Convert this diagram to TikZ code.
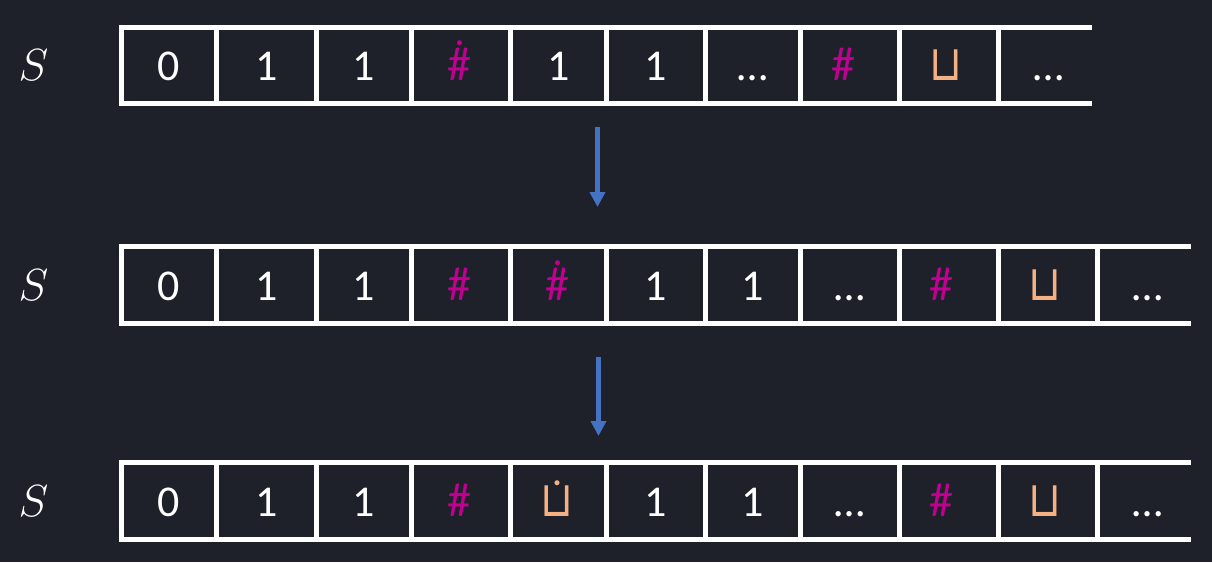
\RequirePackage{fix-cm}
\documentclass[tikz,border=0pt]{standalone}
\usepackage{amsmath}
\usepackage{fontspec}
\newfontfamily\calib{Carlito}
\newfontfamily\djv{DejaVu Sans}
\usetikzlibrary{arrows.meta}
\definecolor{bg}{RGB}{30,33,41}
\definecolor{hashc}{RGB}{192,0,144}
\definecolor{blankc}{RGB}{244,177,131}
\definecolor{arrc}{RGB}{68,114,196}
% a symbol with a dot above it (the head position)
\newcommand\withdot[2]{\setbox0\hbox{#1}\rlap{\hbox to\wd0{\hss\raisebox{#2}{\fontsize{13}{13}\selectfont$\bullet$}\hss}}\box0}
\newcommand\hashsym{{\fontsize{48}{50}\selectfont\#}}
\newcommand\blanksym{\scalebox{0.98}[1.14]{\djv\fontsize{43}{46}\selectfont ⊔}}
\begin{document}
\begin{tikzpicture}[x=1pt,y=-1pt,
  tapeline/.style={draw=white,line width=5pt},
  sym/.style={anchor=base,inner sep=0pt,text=white,font=\calib\fontsize{44}{50}\selectfont},
  hsym/.style={sym,text=hashc},
  bsym/.style={sym,text=blankc},
  lbl/.style={anchor=base,inner sep=0pt,text=white,font=\fontsize{45}{50}\selectfont},
  flow/.style={draw=arrc,line width=5pt,-{Triangle[width=15pt,length=15pt]}}]
\fill[bg] (0,0) rectangle (1212,562);
\useasboundingbox (0,0) rectangle (1212,562);
% ---- row 1 ----
\draw[tapeline] (119,27.5) -- (1092,27.5);
\draw[tapeline] (119,103) -- (1092,103);
\foreach \x in {121.5,216.5,316,411.5,510.5,606.5,705,800.5,899,998.5}
  \draw[tapeline] (\x,27.5) -- (\x,103);
% ---- row 2 ----
\draw[tapeline] (119,246.5) -- (1191,246.5);
\draw[tapeline] (119,323.2) -- (1191,323.2);
\foreach \x in {121.5,216.5,316,411.5,510.5,606.5,705,800.5,899,998.5,1097.5}
  \draw[tapeline] (\x,246.5) -- (\x,323.2);
% ---- row 3 ----
\draw[tapeline] (119,462.5) -- (1191,462.5);
\draw[tapeline] (119,539.5) -- (1191,539.5);
\foreach \x in {121.5,216.5,316,411.5,510.5,606.5,705,800.5,899,998.5,1097.5}
  \draw[tapeline] (\x,462.5) -- (\x,539.5);
% ---- labels ----
\node[lbl] (s1) at (33.5,80.5) {$S$};
\node[lbl] (s2) at (33.5,300.5) {$S$};
\node[lbl] (s3) at (33.5,516.5) {$S$};
% ---- row 1 symbols ----
\node[sym]  (r1c1) at (169,80.5) {0};
\node[sym]  (r1c2) at (266.3,80.5) {1};
\node[sym]  (r1c3) at (363.8,80.5) {1};
\node[hsym] (r1c4) at (459.5,80.5) {\withdot{\hashsym}{34.5pt}};
\node[sym]  (r1c5) at (558.5,80.5) {1};
\node[sym]  (r1c6) at (655.8,80.5) {1};
\node[sym]  (r1c7) at (752.8,80.5) {…};
\node[hsym] (r1c8) at (843,80.5) {\hashsym};
\node[bsym] (r1c9) at (946,80.5) {\blanksym};
\node[sym]  (r1c10) at (1049,80.5) {…};
% ---- row 2 symbols ----
\node[sym]  (r2c1) at (169,300.5) {0};
\node[sym]  (r2c2) at (266.3,300.5) {1};
\node[sym]  (r2c3) at (363.8,300.5) {1};
\node[hsym] (r2c4) at (459,300.5) {\hashsym};
\node[hsym] (r2c5) at (557.5,300.5) {\withdot{\hashsym}{34.5pt}};
\node[sym]  (r2c6) at (655.8,300.5) {1};
\node[sym]  (r2c7) at (752.8,300.5) {1};
\node[sym]  (r2c8) at (850,300.5) {…};
\node[hsym] (r2c9) at (941,300.5) {\hashsym};
\node[bsym] (r2c10) at (1045,300.5) {\blanksym};
\node[sym]  (r2c11) at (1148,300.5) {…};
% ---- row 3 symbols ----
\node[sym]  (r3c1) at (169,516.5) {0};
\node[sym]  (r3c2) at (266.3,516.5) {1};
\node[sym]  (r3c3) at (363.8,516.5) {1};
\node[hsym] (r3c4) at (459,516.5) {\hashsym};
\node[bsym] (r3c5) at (557,516.5) {\withdot{\blanksym}{30pt}};
\node[sym]  (r3c6) at (655.8,516.5) {1};
\node[sym]  (r3c7) at (752.8,516.5) {1};
\node[sym]  (r3c8) at (850,516.5) {…};
\node[hsym] (r3c9) at (941,516.5) {\hashsym};
\node[bsym] (r3c10) at (1045,516.5) {\blanksym};
\node[sym]  (r3c11) at (1148,516.5) {…};
% ---- arrows ----
\coordinate (a1s) at (597.5,127);
\coordinate (a1e) at (597.5,207);
\coordinate (a2s) at (598.5,357);
\coordinate (a2e) at (598.5,436);
\draw[flow] (a1s) -- (a1e);
\draw[flow] (a2s) -- (a2e);
\end{tikzpicture}
\end{document}
